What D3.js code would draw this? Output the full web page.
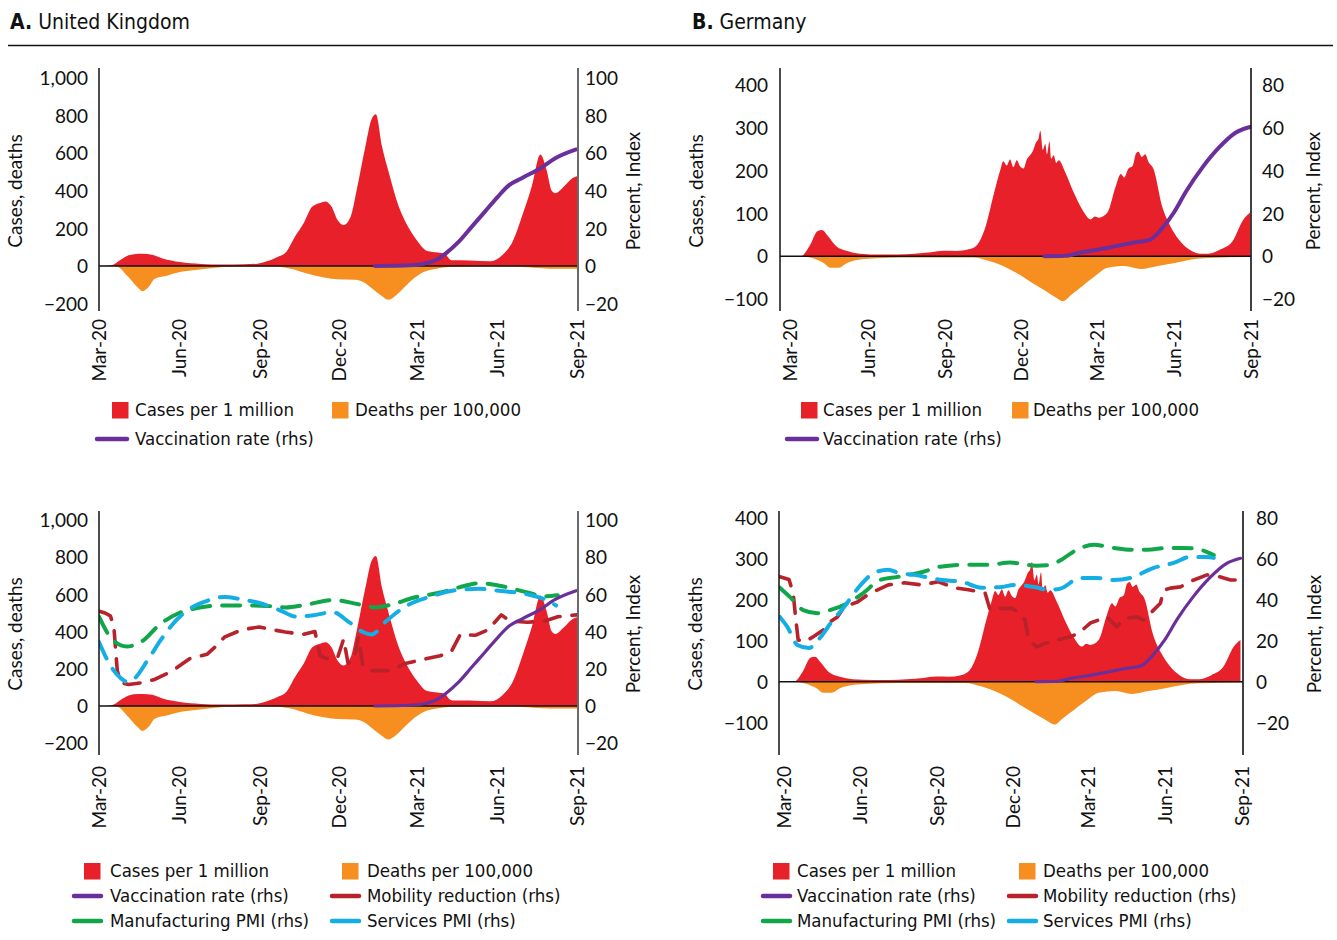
<!DOCTYPE html>
<html><head><meta charset="utf-8">
<script src="https://cdn.jsdelivr.net/npm/d3@7"></script>
<style>
body{margin:0;background:#fff;}
svg{display:block;}
.tk text{font-family:Lato,'Open Sans',sans-serif;font-size:19px;fill:#111;}
.ttl{font-family:Lato,'Open Sans',sans-serif;font-size:19px;fill:#111;}
.leg{font-family:'DejaVu Sans Condensed','DejaVu Sans',sans-serif;font-stretch:condensed;font-size:18.5px;fill:#111;}
.head{font-family:'DejaVu Sans Condensed','DejaVu Sans',sans-serif;font-stretch:condensed;font-size:21px;fill:#111;}
</style></head><body>
<svg id="c" width="1337" height="940"></svg>
<script>
// ---------- DATA ----------
const xTickDates = ["2020-03-01","2020-06-01","2020-09-01","2020-12-01","2021-03-01","2021-06-01","2021-09-01"];
const xTickLabels = ["Mar-20","Jun-20","Sep-20","Dec-20","Mar-21","Jun-21","Sep-21"];
const ukLeftTicks = [-200,0,200,400,600,800,1000];
const ukRightTicks = [-20,0,20,40,60,80,100];
const deLeftTicks = [-100,0,100,200,300,400];
const deRightTicks = [-20,0,20,40,60,80];

const ukCases = [["2020-03-01",0],["2020-03-12",2],["2020-03-18",8],["2020-03-25",30],["2020-04-04",57],["2020-04-10",63],["2020-04-20",65],["2020-05-01",60],["2020-05-13",40],["2020-06-02",21],["2020-06-26",11],["2020-07-20",8],["2020-08-15",9],["2020-08-30",12],["2020-09-07",21],["2020-09-22",48],["2020-10-02",75],["2020-10-12",155],["2020-10-22",227],["2020-11-01",316],["2020-11-10",335],["2020-11-16",343],["2020-11-23",316],["2020-11-30",245],["2020-12-07",218],["2020-12-15",262],["2020-12-22",405],["2021-01-01",637],["2021-01-08",780],["2021-01-13",807],["2021-01-20",637],["2021-01-28",495],["2021-02-07",334],["2021-02-19",209],["2021-03-01",137],["2021-03-13",80],["2021-03-25",72],["2021-04-02",66],["2021-04-08",35],["2021-04-11",30],["2021-05-01",29],["2021-05-25",25],["2021-06-07",57],["2021-06-19",129],["2021-07-01",280],["2021-07-11",423],["2021-07-21",593],["2021-07-28",512],["2021-08-03",400],["2021-08-07",387],["2021-08-17",423],["2021-08-27",468],["2021-09-01",477]];
const ukDeaths = [["2020-03-01",0],["2020-03-20",0],["2020-04-04",-60],["2020-04-14",-112],["2020-04-20",-134],["2020-04-27",-112],["2020-05-04",-68],["2020-05-19",-50],["2020-06-02",-32],["2020-06-22",-20],["2020-07-12",-9],["2020-08-01",-4],["2020-09-15",-3],["2020-10-07",-14],["2020-10-27",-41],["2020-11-16",-62],["2020-11-30",-70],["2020-12-20",-73],["2020-12-30",-86],["2021-01-09",-121],["2021-01-19",-157],["2021-01-27",-180],["2021-02-05",-157],["2021-02-15",-112],["2021-02-25",-68],["2021-03-09",-32],["2021-03-24",-14],["2021-04-08",-5],["2021-06-15",-3],["2021-07-13",-9],["2021-08-01",-14],["2021-09-01",-14]];
const ukVaccination = [["2021-01-12",0],["2021-02-21",0.4],["2021-03-09",1.2],["2021-03-24",3.4],["2021-04-03",6.6],["2021-04-18",12.8],["2021-05-03",20.8],["2021-05-18",28.8],["2021-06-02",36.8],["2021-06-15",43],["2021-06-29",46.6],["2021-07-21",52],["2021-08-07",57.3],["2021-08-31",62]];
const ukMobility = [["2020-03-01",51],["2020-03-08",50],["2020-03-14",48.5],["2020-03-18",43],["2020-03-22",19],["2020-03-26",12.5],["2020-04-04",11.6],["2020-04-19",12.5],["2020-05-04",14.3],["2020-05-24",18.8],["2020-06-13",25.4],["2020-07-03",27.8],["2020-07-13",32],["2020-07-23",37],["2020-08-12",41],["2020-09-01",42.5],["2020-09-16",41],["2020-10-01",39.8],["2020-10-21",38.5],["2020-11-04",40],["2020-11-10",27],["2020-11-20",25],["2020-11-30",26],["2020-12-07",36],["2020-12-12",23],["2020-12-19",25],["2020-12-24",37],["2020-12-29",21.5],["2021-01-08",19],["2021-01-28",19],["2021-02-17",23],["2021-03-08",25],["2021-03-28",27],["2021-04-10",29.6],["2021-04-20",38.5],["2021-05-07",38],["2021-05-22",41],["2021-06-06",49],["2021-06-16",45.7],["2021-07-06",45],["2021-07-26",45.7],["2021-08-10",48],["2021-08-25",48.7],["2021-09-01",49]];
const ukManufacturingPMI = [["2020-03-01",48],["2020-03-15",36.5],["2020-04-02",32],["2020-04-20",35],["2020-05-09",43.5],["2020-06-01",50],["2020-06-20",52.5],["2020-07-20",54],["2020-08-20",54],["2020-09-10",53.8],["2020-10-01",53],["2020-10-25",54.5],["2020-11-25",57],["2020-12-24",54.7],["2021-01-12",53],["2021-02-01",54.7],["2021-02-25",58.2],["2021-03-28",61],["2021-04-17",63.6],["2021-05-12",66],["2021-06-06",64.5],["2021-07-06",61],["2021-07-26",59],["2021-08-10",59.5]];
const ukServicesPMI = [["2020-03-01",34.4],["2020-03-15",21],["2020-03-26",15],["2020-04-02",13],["2020-04-10",14.5],["2020-04-26",24.7],["2020-05-11",35.5],["2020-05-22",42.5],["2020-06-11",51.6],["2020-06-30",56],["2020-07-23",58.6],["2020-08-10",57.5],["2020-09-01",55.4],["2020-09-24",51.6],["2020-10-14",48],["2020-11-05",49],["2020-11-24",50.5],["2020-12-14",44.8],["2020-12-29",39.8],["2021-01-08",38.5],["2021-01-25",45.7],["2021-02-17",53.8],["2021-03-18",59],["2021-04-17",62.4],["2021-05-12",63],["2021-06-06",61.8],["2021-07-06",60],["2021-07-26",57.3],["2021-08-08",54]];

const deCases = [["2020-02-18",0],["2020-03-14",0],["2020-03-24",23],["2020-04-03",59],["2020-04-08",61],["2020-04-15",47],["2020-04-25",23],["2020-05-08",12],["2020-05-23",6],["2020-06-17",4],["2020-07-07",4],["2020-07-27",6],["2020-08-16",9],["2020-08-31",12.5],["2020-09-15",12],["2020-09-30",16],["2020-10-10",27],["2020-10-20",70],["2020-10-30",148],["2020-11-06",199],["2020-11-10",222],["2020-11-14",212],["2020-11-18",226],["2020-11-22",208],["2020-11-26",224],["2020-11-30",210],["2020-12-04",205],["2020-12-08",226],["2020-12-11",234],["2020-12-15",245],["2020-12-19",266],["2020-12-22",275],["2020-12-24",293],["2020-12-27",248],["2020-12-30",262],["2021-01-01",238],["2021-01-04",268],["2021-01-06",228],["2021-01-09",236],["2021-01-12",218],["2021-01-15",224],["2021-01-23",195],["2021-02-02",148],["2021-02-12",109],["2021-02-22",86],["2021-02-27",93],["2021-03-04",90],["2021-03-14",102],["2021-03-24",164],["2021-03-30",192],["2021-04-03",184],["2021-04-08",205],["2021-04-13",211],["2021-04-17",240],["2021-04-20",244],["2021-04-24",232],["2021-04-28",238],["2021-05-02",220],["2021-05-08",203],["2021-05-18",117],["2021-05-28",70],["2021-06-07",39],["2021-06-19",16],["2021-07-02",6],["2021-07-12",6],["2021-07-27",16],["2021-08-10",35],["2021-08-23",86],["2021-08-31",102]];
const deDeaths = [["2020-02-18",0],["2020-03-15",0],["2020-03-28",-5],["2020-04-10",-16],["2020-04-18",-27],["2020-04-28",-27],["2020-05-08",-16],["2020-05-23",-8],["2020-06-12",-5],["2020-07-15",-3],["2020-10-05",-3],["2020-10-25",-12],["2020-11-14",-27],["2020-11-29",-43],["2020-12-14",-62],["2020-12-24",-74],["2021-01-03",-86],["2021-01-13",-98],["2021-01-20",-105],["2021-01-30",-90],["2021-02-12",-70],["2021-02-27",-47],["2021-03-14",-27],["2021-04-03",-23],["2021-04-23",-30],["2021-05-13",-23],["2021-06-02",-16],["2021-06-22",-8],["2021-07-12",-4],["2021-08-31",-2]];
const deVaccination = [["2020-12-29",0],["2021-01-23",0.2],["2021-02-12",1.9],["2021-03-04",3.1],["2021-03-24",4.7],["2021-04-13",6.3],["2021-05-04",7.8],["2021-05-17",12.5],["2021-06-01",20.3],["2021-06-16",30.5],["2021-07-05",41.4],["2021-07-25",50.8],["2021-08-14",57.8],["2021-08-31",60.4]];
const deMobility = [["2020-02-26",51.4],["2020-03-08",50],["2020-03-13",43.4],["2020-03-16",31],["2020-03-19",20.4],["2020-03-27",19.5],["2020-04-06",22],["2020-04-18",25.3],["2020-04-26",29.3],["2020-05-05",31.7],["2020-05-13",36.6],["2020-05-29",39],["2020-06-10",42.5],["2020-06-17",44],["2020-07-05",47.4],["2020-07-24",48.4],["2020-08-13",47.4],["2020-09-03",48.9],["2020-09-22",46],["2020-10-09",45],["2020-10-29",43.4],["2020-11-04",35],["2020-11-15",35.9],["2020-11-30",35.9],["2020-12-10",33.5],["2020-12-16",30],["2020-12-20",20.4],["2020-12-30",17],["2021-01-09",18.8],["2021-01-24",20.4],["2021-02-08",22],["2021-02-18",23.7],["2021-03-04",28.7],["2021-03-24",31.7],["2021-04-05",26.8],["2021-04-13",31],["2021-04-29",31.7],["2021-05-07",30.2],["2021-05-15",33.5],["2021-05-27",38.4],["2021-05-31",44.8],["2021-06-08",45.8],["2021-06-20",46.4],["2021-07-06",49.8],["2021-07-22",52.3],["2021-08-07",51.3],["2021-08-19",49.8],["2021-08-31",49.8]];
const deManufacturingPMI = [["2020-02-26",46],["2020-03-09",41.5],["2020-03-25",35],["2020-04-11",33.5],["2020-04-26",35],["2020-05-17",38.4],["2020-06-05",43.4],["2020-06-25",49.8],["2020-07-16",51.3],["2020-08-16",53.8],["2020-09-05",56.3],["2020-10-11",57.3],["2020-11-04",57.3],["2020-11-28",58.3],["2020-12-15",57.5],["2020-12-29",56.8],["2021-01-13",57.1],["2021-01-28",59.6],["2021-02-12",63.7],["2021-03-08",67],["2021-04-01",65.5],["2021-04-21",64.6],["2021-05-12",64.6],["2021-06-04",65.5],["2021-06-24",65.5],["2021-07-14",64.6],["2021-07-30",62]];
const deServicesPMI = [["2020-02-26",31.7],["2020-03-06",26.8],["2020-03-18",18],["2020-04-01",16.5],["2020-04-15",21.9],["2020-04-27",28.7],["2020-05-13",36.6],["2020-06-02",47.4],["2020-06-18",53.3],["2020-07-05",54.8],["2020-07-17",53.3],["2020-08-05",52.3],["2020-09-07",49.8],["2020-10-01",48.9],["2020-10-25",46],["2020-11-18",46.4],["2020-12-03",47.4],["2020-12-29",46.2],["2021-01-13",44.9],["2021-01-28",45.7],["2021-02-20",50.8],["2021-03-12",50.8],["2021-04-01",49.8],["2021-04-21",50.8],["2021-05-19",55.7],["2021-06-12",58.2],["2021-07-02",61.1],["2021-07-22",61.1],["2021-07-30",60.6]];

const legendLabels = {cases:"Cases per 1 million",deaths:"Deaths per 100,000",vax:"Vaccination rate (rhs)",mob:"Mobility reduction (rhs)",mfg:"Manufacturing PMI (rhs)",svc:"Services PMI (rhs)"};
const colors = {cases:"#E82029",deaths:"#F68E20",vax:"#6B2F9B",mob:"#B8222B",mfg:"#12A64A",svc:"#14AEE5"};

// ---------- DRAW ----------
const svg = d3.select("#c");
const parse = d3.utcParse("%Y-%m-%d");

const h1 = svg.append("text").attr("class","head").attr("x",10).attr("y",29);
h1.append("tspan").attr("font-weight","bold").text("A.");
h1.append("tspan").text(" United Kingdom");
const h2 = svg.append("text").attr("class","head").attr("x",692).attr("y",29);
h2.append("tspan").attr("font-weight","bold").text("B.");
h2.append("tspan").text(" Germany");
svg.append("line").attr("x1",8).attr("x2",1333).attr("y1",45.5).attr("y2",45.5).attr("stroke","#111").attr("stroke-width",1.6);

let clipId = 0;
function panel(cfg){
  const g = svg.append("g");
  const x = d3.scaleUtc().domain(cfg.xDomain.map(parse)).range([cfg.x0,cfg.x1]);
  const yL = d3.scaleLinear().domain(cfg.leftDomain).range(cfg.yRange);
  const yR = d3.scaleLinear().domain(cfg.rightDomain).range(cfg.yRange);
  const cid = "clip"+(clipId++);
  g.append("clipPath").attr("id",cid).append("rect")
    .attr("x",cfg.x0).attr("y",cfg.axTop).attr("width",cfg.x1-cfg.x0).attr("height",cfg.axBot-cfg.axTop);
  const plot = g.append("g").attr("clip-path",`url(#${cid})`);

  const area = d3.area().x(d=>x(parse(d[0]))).y0(yL(0)).y1(d=>yL(d[1])).curve(d3.curveMonotoneX);
  plot.append("path").datum(cfg.cases).attr("d",area).attr("fill",colors.cases);
  plot.append("path").datum(cfg.deaths).attr("d",area).attr("fill",colors.deaths);
  plot.append("line").attr("x1",cfg.x0).attr("x2",cfg.x1).attr("y1",yL(0)).attr("y2",yL(0)).attr("stroke","#111").attr("stroke-width",1.5);

  const lineR = (curve)=>d3.line().x(d=>x(parse(d[0]))).y(d=>yR(d[1])).curve(curve);
  if(cfg.mob){
    plot.append("path").datum(cfg.mob).attr("d",lineR(d3.curveLinear)).attr("fill","none")
      .attr("stroke",colors.mob).attr("stroke-width",3.6).attr("stroke-linecap","round").attr("stroke-linejoin","round").attr("stroke-dasharray","16,12");
    plot.append("path").datum(cfg.mfg).attr("d",lineR(d3.curveMonotoneX)).attr("fill","none")
      .attr("stroke",colors.mfg).attr("stroke-width",4).attr("stroke-linecap","round").attr("stroke-dasharray","18,12");
    plot.append("path").datum(cfg.svc).attr("d",lineR(d3.curveMonotoneX)).attr("fill","none")
      .attr("stroke",colors.svc).attr("stroke-width",4).attr("stroke-linecap","round").attr("stroke-dasharray","18,12");
  }
  plot.append("path").datum(cfg.vax).attr("d",lineR(d3.curveMonotoneX)).attr("fill","none")
    .attr("stroke",colors.vax).attr("stroke-width",cfg.mob?3.2:4).attr("stroke-linecap","round");

  const axL = d3.axisLeft(yL).tickValues(cfg.leftTicks).tickSize(0).tickPadding(0).tickFormat(d3.format(","));
  const gl = g.append("g").attr("class","tk").attr("transform",`translate(${cfg.lLabelX},0)`).call(axL);
  gl.select(".domain").remove();
  gl.selectAll("text").attr("dy","0.35em");
  const axR = d3.axisRight(yR).tickValues(cfg.rightTicks).tickSize(0).tickPadding(0).tickFormat(d3.format(","));
  const gr = g.append("g").attr("class","tk").attr("transform",`translate(${cfg.rLabelX},0)`).call(axR);
  gr.select(".domain").remove();
  gr.selectAll("text").attr("dy","0.35em");
  g.append("line").attr("x1",cfg.x0).attr("x2",cfg.x0).attr("y1",cfg.axTop).attr("y2",cfg.axBot).attr("stroke","#111").attr("stroke-width",1.5);
  g.append("line").attr("x1",cfg.rAxisX).attr("x2",cfg.rAxisX).attr("y1",cfg.axTop).attr("y2",cfg.axBot).attr("stroke",cfg.rAxisColor).attr("stroke-width",1.6);

  const axB = d3.axisBottom(x).tickValues(xTickDates.map(parse)).tickSize(0).tickPadding(0)
    .tickFormat((d,i)=>xTickLabels[i]);
  const gb = g.append("g").attr("class","tk").attr("transform",`translate(0,${cfg.xLabelY})`).call(axB);
  gb.select(".domain").remove();
  gb.selectAll("text").attr("transform","rotate(-90)").attr("text-anchor","end").attr("x",0).attr("y",0).attr("dy","0.36em");

  g.append("text").attr("class","ttl").attr("text-anchor","middle")
    .attr("transform",`translate(${cfg.lTitleX},${cfg.titleY}) rotate(-90)`).text("Cases, deaths");
  g.append("text").attr("class","ttl").attr("text-anchor","middle")
    .attr("transform",`translate(${cfg.rTitleX},${cfg.titleY}) rotate(-90)`).text("Percent, Index");

  cfg.legend.forEach(it=>{
    const lg = g.append("g");
    if(it.type==="sq"){
      lg.append("rect").attr("x",it.mx).attr("y",it.y-8).attr("width",16.5).attr("height",16.5).attr("fill",colors[it.key]);
    } else {
      lg.append("line").attr("x1",it.mx+2).attr("x2",it.mx+it.w-2).attr("y1",it.y).attr("y2",it.y)
        .attr("stroke",colors[it.key]).attr("stroke-width",4.5).attr("stroke-linecap","round");
    }
    lg.append("text").attr("class","leg").attr("x",it.tx).attr("y",it.y).attr("dy","0.35em").text(legendLabels[it.key]);
  });
}

panel({x0:99,x1:577,xDomain:["2020-03-01","2021-09-01"],leftDomain:[-200,1000],rightDomain:[-20,100],yRange:[303.6,78],
  axTop:68,axBot:311,rAxisX:578,rAxisColor:"#444",lLabelX:88,rLabelX:585,leftTicks:ukLeftTicks,rightTicks:ukRightTicks,
  xLabelY:319,lTitleX:22,rTitleX:640,titleY:191,
  cases:ukCases,deaths:ukDeaths,vax:ukVaccination,
  legend:[{type:"sq",key:"cases",mx:112,tx:135,y:410},{type:"sq",key:"deaths",mx:332,tx:355,y:410},{type:"ln",key:"vax",mx:95,w:34,tx:135,y:439}]});
panel({x0:780,x1:1251,xDomain:["2020-02-18","2021-09-01"],leftDomain:[-100,400],rightDomain:[-20,80],yRange:[299,85],
  axTop:68,axBot:311,rAxisX:1251,rAxisColor:"#111",lLabelX:768,rLabelX:1262,leftTicks:deLeftTicks,rightTicks:deRightTicks,
  xLabelY:319,lTitleX:703,rTitleX:1320,titleY:191,
  cases:deCases,deaths:deDeaths,vax:deVaccination,
  legend:[{type:"sq",key:"cases",mx:801,tx:823,y:410},{type:"sq",key:"deaths",mx:1012,tx:1033,y:410},{type:"ln",key:"vax",mx:785,w:34,tx:823,y:439}]});
panel({x0:99,x1:577,xDomain:["2020-03-01","2021-09-01"],leftDomain:[-200,1000],rightDomain:[-20,100],yRange:[743.2,520],
  axTop:511,axBot:755,rAxisX:578,rAxisColor:"#444",lLabelX:88,rLabelX:585,leftTicks:ukLeftTicks,rightTicks:ukRightTicks,
  xLabelY:766,lTitleX:22,rTitleX:640,titleY:634,
  cases:ukCases,deaths:ukDeaths,vax:ukVaccination,mob:ukMobility,mfg:ukManufacturingPMI,svc:ukServicesPMI,
  legend:[{type:"sq",key:"cases",mx:84,tx:110,y:871},{type:"sq",key:"deaths",mx:342,tx:367,y:871},
          {type:"ln",key:"vax",mx:72,w:31,tx:110,y:896},{type:"ln",key:"mob",mx:330,w:31,tx:367,y:896},
          {type:"ln",key:"mfg",mx:72,w:31,tx:110,y:921},{type:"ln",key:"svc",mx:330,w:31,tx:367,y:921}]});
panel({x0:779,x1:1243,xDomain:["2020-02-25","2021-09-03"],leftDomain:[-100,400],rightDomain:[-20,80],yRange:[722.5,518.3],
  axTop:511,axBot:755,rAxisX:1243,rAxisColor:"#111",lLabelX:768,rLabelX:1256,leftTicks:deLeftTicks,rightTicks:deRightTicks,
  xLabelY:766,lTitleX:702,rTitleX:1321,titleY:634,
  cases:deCases,deaths:deDeaths,vax:deVaccination,mob:deMobility,mfg:deManufacturingPMI,svc:deServicesPMI,
  legend:[{type:"sq",key:"cases",mx:773,tx:797,y:871},{type:"sq",key:"deaths",mx:1019,tx:1043,y:871},
          {type:"ln",key:"vax",mx:761,w:31,tx:797,y:896},{type:"ln",key:"mob",mx:1007,w:31,tx:1043,y:896},
          {type:"ln",key:"mfg",mx:761,w:31,tx:797,y:921},{type:"ln",key:"svc",mx:1007,w:31,tx:1043,y:921}]});
</script>
</body></html>
